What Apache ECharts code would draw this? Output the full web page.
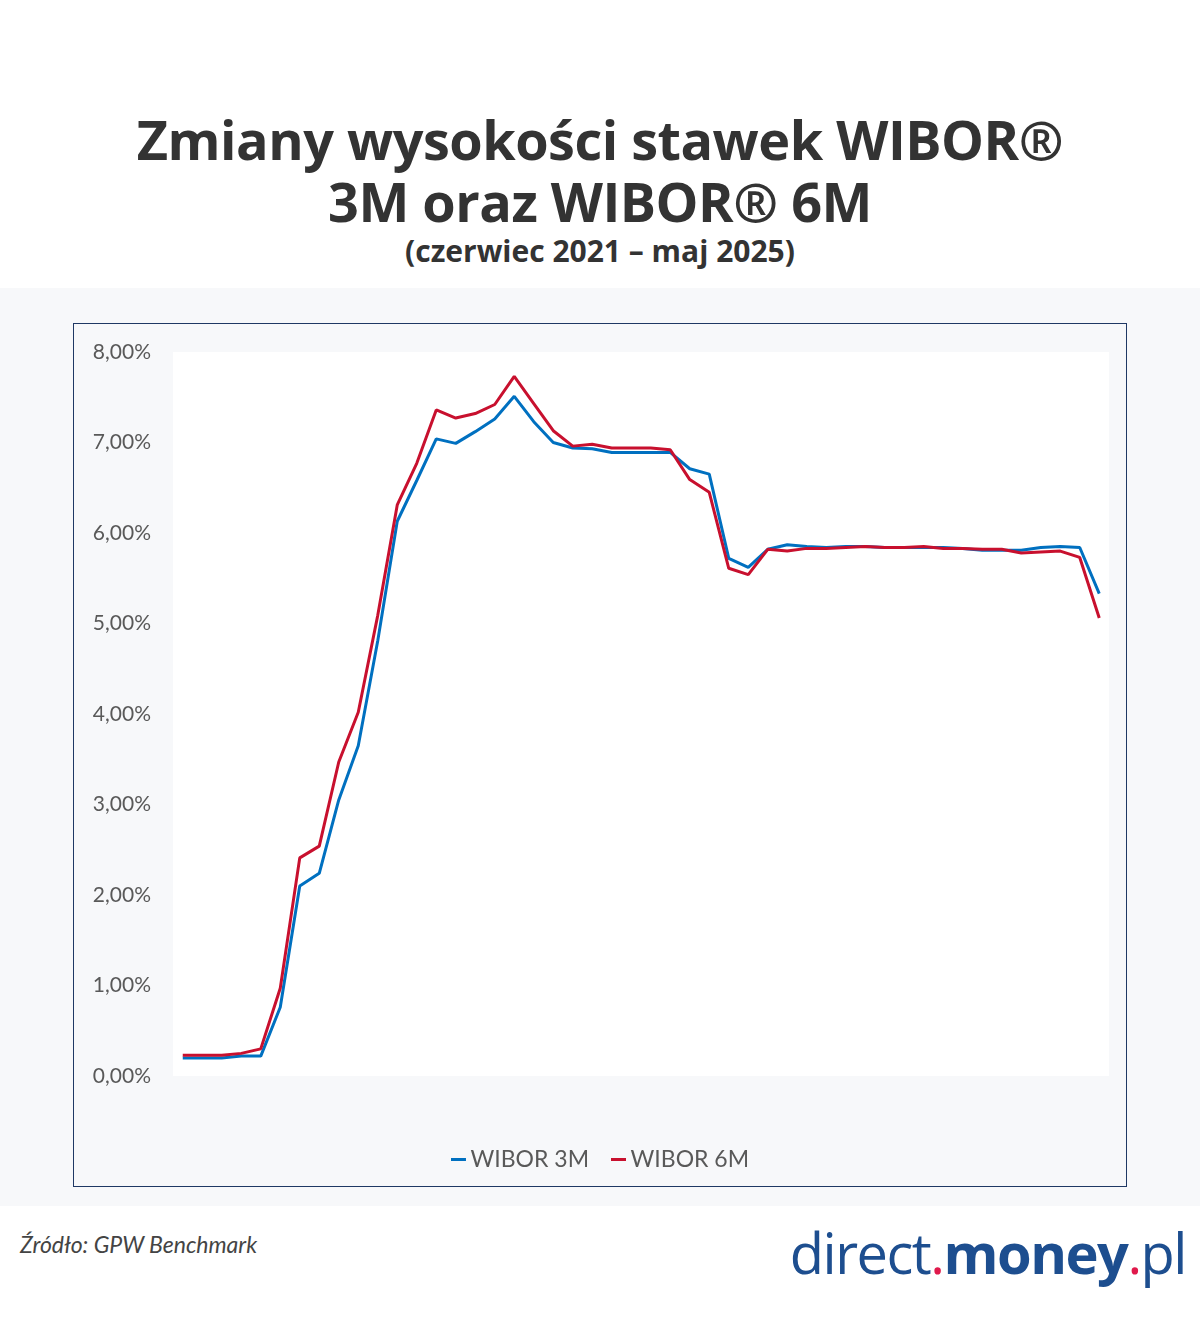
<!DOCTYPE html>
<html><head><meta charset="utf-8">
<script src="https://cdn.jsdelivr.net/npm/echarts@6/dist/echarts.min.js"></script>
<style>
body{margin:0;width:1200px;height:1334px;background:#fff;position:relative;font-family:Lato,"Open Sans",sans-serif;overflow:hidden}
#t1{position:absolute;top:108px;left:0;width:1200px;text-align:center;font:bold 54px "Open Sans",sans-serif;color:#333;line-height:62px;letter-spacing:-0.5px}
#t2{position:absolute;top:230px;left:0;width:1200px;text-align:center;font:bold 30px "Open Sans",sans-serif;color:#333}
#band{position:absolute;top:288px;left:0;width:1200px;height:918px;background:#f7f8fa}
#box{position:absolute;top:323px;left:73px;width:1052px;height:862px;border:1px solid #1f3864;background:#f7f8fa}
#c{width:1052px;height:862px}
#src{position:absolute;top:1230px;left:20px;font:italic 23px Lato,sans-serif;color:#444}
#logo{position:absolute;top:1214px;right:14px;font:56px "Open Sans",sans-serif;color:#1d4e8f;letter-spacing:-1.5px}
#logo b{font-weight:bold}#logo i{font-style:normal;color:#e0194b}
</style></head><body>
<div id="t1">Zmiany wysokości stawek WIBOR®<br>3M oraz WIBOR® 6M</div>
<div id="t2">(czerwiec 2021 – maj 2025)</div>
<div id="band"></div>
<div id="box"><div id="c"></div></div>
<div id="src">Źródło: GPW Benchmark</div>
<div id="logo">direct<i>.</i><b>money</b><i>.</i>pl</div>
<script>
const months=[];
for(let y=2021,m=6;months.length<48;){months.push(y+'-'+String(m).padStart(2,'0'));m++;if(m>12){m=1;y++;}}
const wibor3m=[0.20,0.20,0.20,0.22,0.22,0.76,2.10,2.24,3.05,3.65,4.81,6.13,6.58,7.04,6.99,7.12,7.26,7.51,7.23,7.00,6.94,6.93,6.89,6.89,6.89,6.89,6.71,6.65,5.72,5.62,5.82,5.87,5.85,5.84,5.85,5.85,5.84,5.84,5.84,5.84,5.83,5.81,5.81,5.81,5.84,5.85,5.84,5.33];
const wibor6m=[0.23,0.23,0.23,0.25,0.30,0.97,2.41,2.54,3.47,4.02,5.09,6.31,6.77,7.36,7.27,7.32,7.42,7.73,7.43,7.13,6.96,6.98,6.94,6.94,6.94,6.92,6.59,6.45,5.61,5.54,5.82,5.80,5.83,5.83,5.84,5.85,5.84,5.84,5.85,5.83,5.83,5.82,5.82,5.78,5.79,5.80,5.73,5.06];
const ch=echarts.init(document.getElementById('c'));
ch.setOption({
 animation:false,
 grid:{left:99,right:17,top:28,bottom:110,show:true,backgroundColor:'#fff',borderWidth:0},
 xAxis:{type:'category',data:months,boundaryGap:true,axisLine:{show:false},axisTick:{show:false},axisLabel:{show:false}},
 yAxis:{type:'value',min:0,max:8,interval:1,splitLine:{show:false},
  axisLabel:{formatter:v=>v.toFixed(2).replace('.',',')+'%',color:'#595959',fontSize:21,fontFamily:'Lato',margin:22}},
 legend:{bottom:10,left:'center',itemWidth:30,itemGap:22,icon:'path://M0,0H10V2H0Z',itemHeight:3,
  textStyle:{color:'#595959',fontSize:23,fontFamily:'Lato',padding:[0,0,0,-8]}},
 series:[
  {name:'WIBOR 3M',type:'line',data:wibor3m,symbol:'none',lineStyle:{color:'#0070c0',width:3},itemStyle:{color:'#0070c0'}},
  {name:'WIBOR 6M',type:'line',data:wibor6m,symbol:'none',lineStyle:{color:'#c8102e',width:3},itemStyle:{color:'#c8102e'}}
 ]
});
</script></body></html>
